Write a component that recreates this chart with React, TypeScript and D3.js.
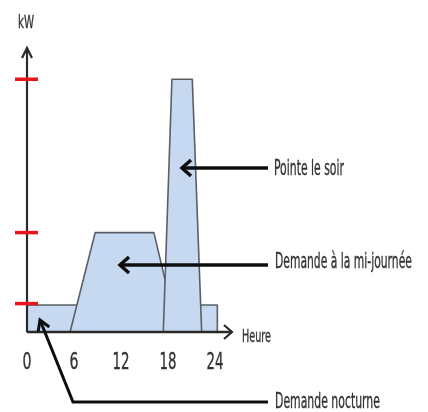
import React, { useLayoutEffect, useRef, useState } from "react";
import * as d3 from "d3";

// Data: hour / kW vertices of each demand block
const nightDemand = [
  { h: 0, kW: 0 },
  { h: 0, kW: 0.95 },
  { h: 24.3, kW: 0.95 },
  { h: 24.3, kW: 0 },
];
const middayDemand = [
  { h: 5.5, kW: 0 },
  { h: 8.7, kW: 3.5 },
  { h: 16.2, kW: 3.5 },
  { h: 19.2, kW: 0 },
];
const eveningPeak = [
  { h: 17.4, kW: 0 },
  { h: 18.5, kW: 8.9 },
  { h: 21.1, kW: 8.9 },
  { h: 22.3, kW: 0 },
];
const xTicks = [0, 6, 12, 18, 24];
const yMarks = [1, 3.5, 8.9];
const labels = {
  peak: "Pointe le soir",
  midday: "Demande à la mi-journée",
  night: "Demande nocturne",
  xAxis: "Heure",
  yAxis: "kW",
};

const FONT = "'DejaVu Sans Condensed', 'Liberation Sans Narrow', 'Roboto', sans-serif";
const TEXT = "#333";

function FitText(props: { x: number; y: number; width: number; size: number; anchor?: "start" | "middle"; children: string }) {
  const ref = useRef<SVGTextElement>(null);
  const [sx, setSx] = useState(1);
  useLayoutEffect(() => {
    if (ref.current) {
      const w = ref.current.getComputedTextLength();
      if (w > 0) setSx(props.width / w);
    }
  }, [props.width, props.children, props.size]);
  return (
    <text
      ref={ref}
      transform={`translate(${props.x},${props.y}) scale(${sx},1)`}
      textAnchor={props.anchor || "start"}
      fontFamily={FONT}
      fontSize={props.size}
      fill={TEXT}
      stroke={TEXT}
      strokeWidth={0.35}
    >
      {props.children}
    </text>
  );
}

function chevron(tipX: number, tipY: number, fromX: number, fromY: number, len: number, spread: number) {
  const dx = fromX - tipX;
  const dy = fromY - tipY;
  const d = Math.hypot(dx, dy);
  const ux = dx / d, uy = dy / d;
  const px = -uy, py = ux;
  const bx = tipX + ux * len, by = tipY + uy * len;
  return `M${bx + px * spread},${by + py * spread}L${tipX},${tipY}L${bx - px * spread},${by - py * spread}`;
}

export default function App() {
  const W = 428, H = 412;
  const x = d3.scaleLinear().domain([0, 24]).range([27, 215]);
  const y = d3.scaleLinear().domain([0, 10]).range([332, 48]);
  const poly = d3
    .line<{ h: number; kW: number }>()
    .x((d) => x(d.h))
    .y((d) => y(d.kW))
    .curve(d3.curveLinearClosed);

  const x0 = x(0);
  const yBase = y(0);
  const xEnd = 232;

  const peakY = 168;
  const midY = 265;
  const nightLine: [number, number][] = [
    [268, 402],
    [73, 402],
    [40, 320],
  ];

  return (
    <svg width={W} height={H} style={{ position: "absolute", left: 0, top: 0, background: "#fff" }}>
      <defs>
        <filter id="soft" x="-5%" y="-5%" width="110%" height="110%">
          <feGaussianBlur stdDeviation="0.45" />
        </filter>
      </defs>
      <rect width={W} height={H} fill="#fff" />
      <g filter="url(#soft)">
        {[nightDemand, middayDemand, eveningPeak].map((p, i) => (
          <path key={i} d={poly(p) || ""} fill="#c6d9f0" stroke="#5a5f66" strokeWidth={1.6} strokeLinejoin="round" />
        ))}

        <line x1={x0} y1={yBase} x2={x0} y2={y(10)} stroke="#2a2a2a" strokeWidth={2.2} />
        <path d={chevron(x0, y(10), x0, yBase, 10, 5)} fill="none" stroke="#2a2a2a" strokeWidth={2.2} />
        <line x1={x0} y1={yBase} x2={xEnd} y2={yBase} stroke="#2a2a2a" strokeWidth={2.6} />
        <path d={chevron(xEnd, yBase, x0, yBase, 8, 7)} fill="none" stroke="#2a2a2a" strokeWidth={2.2} />

        {yMarks.map((v) => (
          <line key={v} x1={15} x2={38} y1={y(v)} y2={y(v)} stroke="#e8141c" strokeWidth={3.5} />
        ))}

        {xTicks.map((t) => (
          <FitText key={t} x={x(t)} y={369} width={String(t).length === 1 ? 9 : 17} size={23} anchor="middle">
            {String(t)}
          </FitText>
        ))}

        <FitText x={18} y={28} width={16} size={18}>{labels.yAxis}</FitText>
        <FitText x={242} y={342} width={29} size={18}>{labels.xAxis}</FitText>

        <line x1={268} y1={peakY} x2={183} y2={peakY} stroke="#111" strokeWidth={3.5} />
        <path d={chevron(182, peakY, 268, peakY, 9, 8)} fill="none" stroke="#111" strokeWidth={3.5} />
        <line x1={268} y1={midY} x2={121} y2={midY} stroke="#111" strokeWidth={3.5} />
        <path d={chevron(120, midY, 268, midY, 9, 8)} fill="none" stroke="#111" strokeWidth={3.5} />
        <polyline points={nightLine.map((p) => p.join(",")).join(" ")} fill="none" stroke="#111" strokeWidth={3} strokeLinejoin="miter" />
        <path d={chevron(40, 320, 73, 402, 10, 6)} fill="none" stroke="#111" strokeWidth={3} />

        <FitText x={274} y={175} width={70} size={22}>{labels.peak}</FitText>
        <FitText x={275} y={268} width={137} size={22}>{labels.midday}</FitText>
        <FitText x={275} y={408} width={105} size={22}>{labels.night}</FitText>
      </g>
    </svg>
  );
}
